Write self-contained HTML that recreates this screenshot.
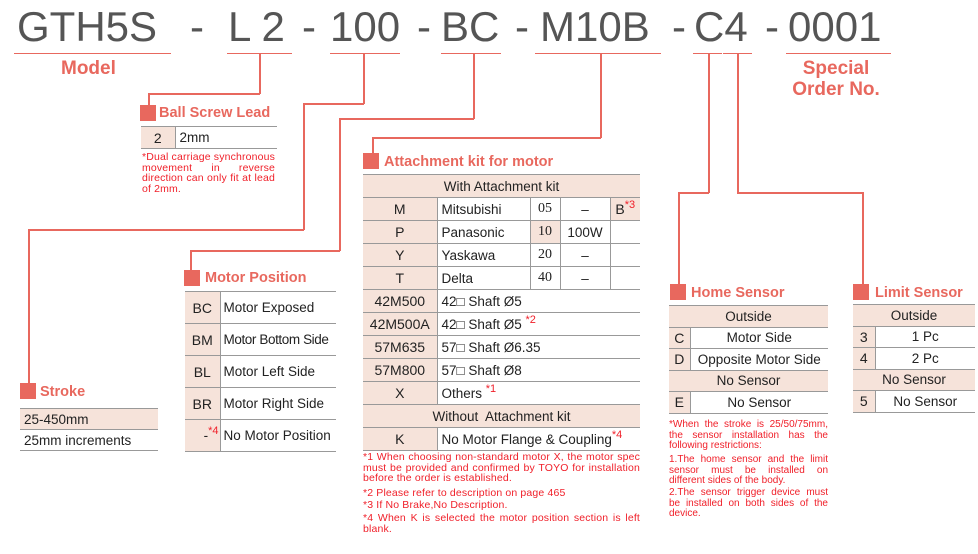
<!DOCTYPE html>
<html><head><meta charset="utf-8"><style>
*{margin:0;padding:0;box-sizing:border-box}
body{width:978px;height:554px;background:#fff;position:relative;overflow:hidden;font-family:"Liberation Sans",sans-serif;color:#222}
.a{position:absolute}
.t{font-size:42px;color:#555;top:2px;line-height:50px}
.ul{position:absolute;height:1px;background:#e8685e;top:53px}
.h{position:absolute;background:#e8685e;height:1.5px}
.v{position:absolute;background:#e8685e;width:1.5px}
.sq{position:absolute;background:#e8685e;width:16px;height:16px}
.ti{position:absolute;color:#e8685e;font-weight:bold;font-size:14.5px;line-height:16px;white-space:nowrap}
table{position:absolute;border-collapse:collapse;font-size:13.5px}
td{border-top:1.5px solid #999;border-bottom:1.5px solid #999;padding:0 4px;white-space:nowrap}
td+td{border-left:1.5px solid #999}
.p{background:#f6e3da}
.c{text-align:center}
.n{position:absolute;color:#f0202a;font-size:10.5px;line-height:10.5px;text-align:justify;letter-spacing:.15px}
.hn{font-size:10px;letter-spacing:0}
sup{color:#f0202a;font-size:11px;vertical-align:6px;line-height:0}
.s{font-family:"Liberation Serif",serif;font-size:14px}
</style></head><body>
<div class="a t" style="left:17px">GTH5S</div>
<div class="a t" style="left:190px">-</div>
<div class="a t" style="left:228px">L 2</div>
<div class="a t" style="left:302px">-</div>
<div class="a t" style="left:330px">100</div>
<div class="a t" style="left:417px">-</div>
<div class="a t" style="left:441px">BC</div>
<div class="a t" style="left:515px">-</div>
<div class="a t" style="left:540px">M10B</div>
<div class="a t" style="left:672px">-</div>
<div class="a t" style="left:694px">C4</div>
<div class="a t" style="left:765px">-</div>
<div class="a t" style="left:788px">0001</div>

<div class="ul" style="left:14px;width:157px"></div>
<div class="ul" style="left:227px;width:65px"></div>
<div class="ul" style="left:330px;width:70px"></div>
<div class="ul" style="left:441px;width:60px"></div>
<div class="ul" style="left:535px;width:126px"></div>
<div class="ul" style="left:693px;width:29px"></div>
<div class="ul" style="left:723px;width:29px"></div>
<div class="ul" style="left:786px;width:105px"></div>

<div class="ti" style="left:61px;top:59px;font-size:19px;line-height:20px">Model</div>
<div class="ti" style="left:790px;top:58px;font-size:19px;line-height:21px;text-align:center;width:92px">Special<br>Order No.</div>

<div class="v" style="left:259px;top:53px;height:41px"></div>
<div class="h" style="left:148px;top:93px;width:112px"></div>
<div class="v" style="left:148px;top:93px;height:12px"></div>

<div class="v" style="left:363px;top:53px;height:51px"></div>
<div class="h" style="left:303px;top:103px;width:61px"></div>
<div class="v" style="left:303px;top:103px;height:127px"></div>
<div class="h" style="left:28px;top:229px;width:276px"></div>
<div class="v" style="left:28px;top:229px;height:154px"></div>

<div class="v" style="left:473px;top:53px;height:66px"></div>
<div class="h" style="left:339px;top:118px;width:135px"></div>
<div class="v" style="left:339px;top:118px;height:133px"></div>
<div class="h" style="left:190px;top:250px;width:150px"></div>
<div class="v" style="left:190px;top:250px;height:20px"></div>

<div class="v" style="left:600px;top:53px;height:85px"></div>
<div class="h" style="left:372px;top:137px;width:229px"></div>
<div class="v" style="left:372px;top:137px;height:16px"></div>

<div class="v" style="left:708px;top:53px;height:140px"></div>
<div class="h" style="left:678px;top:192px;width:31px"></div>
<div class="v" style="left:678px;top:192px;height:92px"></div>
<div class="v" style="left:737px;top:53px;height:140px"></div>
<div class="h" style="left:737px;top:192px;width:126px"></div>
<div class="v" style="left:862px;top:192px;height:92px"></div>

<div class="sq" style="left:140px;top:105px"></div>
<div class="ti" style="left:159px;top:105px">Ball Screw Lead</div>
<table style="left:141px;top:126px;width:136px"><tr style="height:22px"><td class="p c" style="width:34px;font-size:14px">2</td><td>2mm</td></tr></table>
<div class="n" style="left:142px;top:152px;width:133px">*Dual carriage synchronous movement in reverse direction can only fit at lead of 2mm.</div>

<div class="sq" style="left:363px;top:153px"></div>
<div class="ti" style="left:384px;top:154px">Attachment kit for motor</div>
<table style="left:363px;top:174px;width:277px">
<tr style="height:23px"><td colspan="5" class="p c">With Attachment kit</td></tr>
<tr style="height:23px"><td class="p c" style="width:74px;font-size:14px">M</td><td style="width:93px">Mitsubishi</td><td class="c s" style="width:30px">05</td><td class="c" style="width:50px">–</td><td class="p c" style="font-size:14px">B<sup>*3</sup></td></tr>
<tr style="height:23px"><td class="p c" style="font-size:14px">P</td><td>Panasonic</td><td class="c s p">10</td><td class="c">100W</td><td></td></tr>
<tr style="height:23px"><td class="p c" style="font-size:14px">Y</td><td>Yaskawa</td><td class="c s">20</td><td class="c">–</td><td></td></tr>
<tr style="height:23px"><td class="p c" style="font-size:14px">T</td><td>Delta</td><td class="c s">40</td><td class="c">–</td><td></td></tr>
<tr style="height:23px"><td class="p c" style="font-size:14px">42M500</td><td colspan="4">42□ Shaft Ø5</td></tr>
<tr style="height:23px"><td class="p c" style="font-size:14px;padding:0">42M500A</td><td colspan="4">42□ Shaft Ø5 <sup>*2</sup></td></tr>
<tr style="height:23px"><td class="p c" style="font-size:14px">57M635</td><td colspan="4">57□ Shaft Ø6.35</td></tr>
<tr style="height:23px"><td class="p c" style="font-size:14px">57M800</td><td colspan="4">57□ Shaft Ø8</td></tr>
<tr style="height:23px"><td class="p c" style="font-size:14px">X</td><td colspan="4">Others <sup>*1</sup></td></tr>
<tr style="height:23px"><td colspan="5" class="p c">Without&nbsp; Attachment kit</td></tr>
<tr style="height:23px"><td class="p c" style="font-size:14px">K</td><td colspan="4">No Motor Flange &amp; Coupling<sup>*4</sup></td></tr>
</table>
<div class="n" style="left:363px;top:452px;width:277px">*1 When choosing non-standard motor X, the motor spec must be provided and confirmed by TOYO for installation before the order is established.</div>
<div class="n" style="left:363px;top:488px;width:277px">*2 Please refer to description on page 465</div>
<div class="n" style="left:363px;top:500px;width:277px">*3 If No Brake,No Description.</div>
<div class="n" style="left:363px;top:513px;width:277px">*4 When K is selected the motor position section is left blank.</div>

<div class="sq" style="left:184px;top:270px"></div>
<div class="ti" style="left:205px;top:270px">Motor Position</div>
<table style="left:185px;top:291px;width:151px">
<tr style="height:32px"><td class="p c" style="width:35px;font-size:14px;padding:0">BC</td><td style="padding:0 3px">Motor Exposed</td></tr>
<tr style="height:32px"><td class="p c" style="font-size:14px;padding:0">BM</td><td style="padding:0 3px;letter-spacing:-.4px">Motor Bottom Side</td></tr>
<tr style="height:32px"><td class="p c" style="font-size:14px;padding:0">BL</td><td style="padding:0 3px">Motor Left Side</td></tr>
<tr style="height:32px"><td class="p c" style="font-size:14px;padding:0">BR</td><td style="padding:0 3px">Motor Right Side</td></tr>
<tr style="height:32px"><td class="p" style="text-align:right;padding:0 1px">-<sup>*4</sup></td><td style="padding:0 3px">No Motor Position</td></tr>
</table>

<div class="sq" style="left:20px;top:383px"></div>
<div class="ti" style="left:40px;top:384px">Stroke</div>
<table style="left:20px;top:408px;width:138px">
<tr style="height:21px"><td class="p">25-450mm</td></tr>
<tr style="height:21px"><td>25mm increments</td></tr>
</table>

<div class="sq" style="left:670px;top:284px"></div>
<div class="ti" style="left:691px;top:285px">Home Sensor</div>
<table style="left:669px;top:305px;width:159px">
<tr style="height:21.5px"><td colspan="2" class="p c">Outside</td></tr>
<tr style="height:21.5px"><td class="p c" style="width:21px;padding:0;font-size:14px">C</td><td class="c" style="padding:0">Motor Side</td></tr>
<tr style="height:21.5px"><td class="p c" style="padding:0;font-size:14px">D</td><td class="c" style="padding:0">Opposite Motor Side</td></tr>
<tr style="height:21.5px"><td colspan="2" class="p c">No Sensor</td></tr>
<tr style="height:21.5px"><td class="p c" style="padding:0;font-size:14px">E</td><td class="c" style="padding:0">No Sensor</td></tr>
</table>
<div class="n hn" style="left:669px;top:420px;width:159px">*When the stroke is 25/50/75mm, the sensor installation has the following restrictions:</div>
<div class="n hn" style="left:669px;top:455px;width:159px">1.The home sensor and the limit sensor must be installed on different sides of the body.</div>
<div class="n hn" style="left:669px;top:488px;width:159px">2.The sensor trigger device must be installed on both sides of the device.</div>

<div class="sq" style="left:853px;top:284px"></div>
<div class="ti" style="left:875px;top:285px">Limit Sensor</div>
<table style="left:853px;top:304px;width:122px">
<tr style="height:21.5px"><td colspan="2" class="p c">Outside</td></tr>
<tr style="height:21.5px"><td class="p c" style="width:22px;padding:0;font-size:14px">3</td><td class="c">1 Pc</td></tr>
<tr style="height:21.5px"><td class="p c" style="padding:0;font-size:14px">4</td><td class="c">2 Pc</td></tr>
<tr style="height:21.5px"><td colspan="2" class="p c">No Sensor</td></tr>
<tr style="height:21.5px"><td class="p c" style="padding:0;font-size:14px">5</td><td class="c">No Sensor</td></tr>
</table>
</body></html>
